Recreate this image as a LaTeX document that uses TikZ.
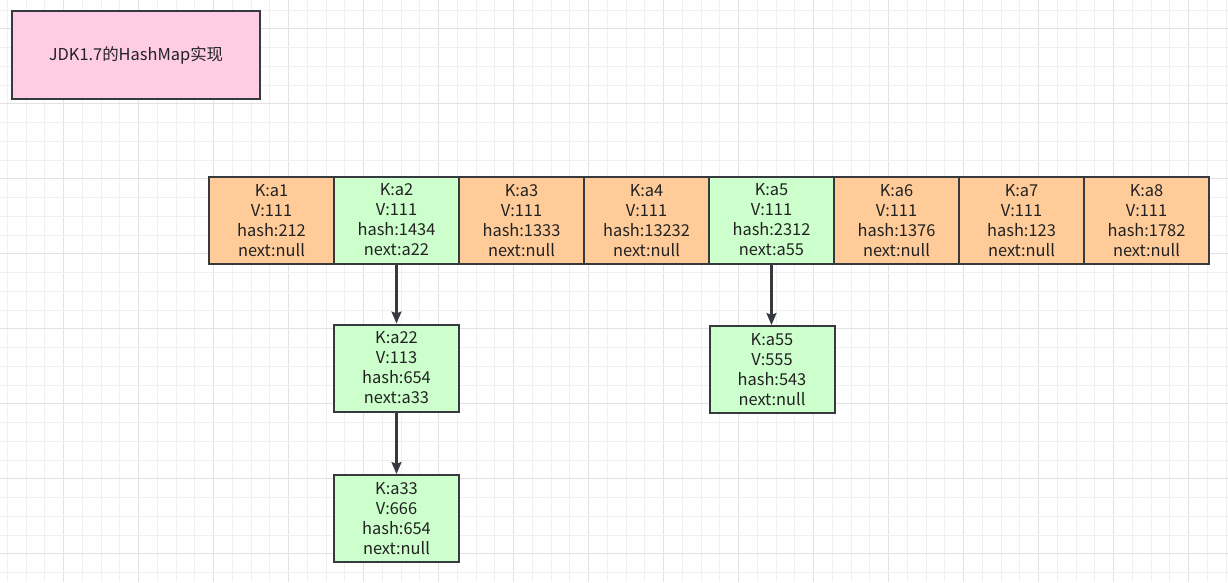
\documentclass[tikz,border=0pt]{standalone}
\usepackage{fontspec}
\setmainfont{Noto Sans CJK SC}
\usetikzlibrary{arrows.meta}
\definecolor{bd}{HTML}{36393D}
\definecolor{orcell}{HTML}{FFCC99}
\definecolor{grcell}{HTML}{CCFFCC}
\definecolor{pkcell}{HTML}{FFCCE6}
\definecolor{txt}{HTML}{222222}
\definecolor{gminor}{HTML}{F0F0F0}
\definecolor{gmajor}{HTML}{E2E2E2}
\tikzset{
  cellbox/.style={draw=bd, line width=1.5pt, minimum width=93.75pt, minimum height=65.25pt,
    inner sep=0pt, align=center, text=txt, font=\fontsize{12.3}{15}\selectfont},
  orbox/.style={cellbox, fill=orcell},
  grbox/.style={cellbox, fill=grcell},
  titlebox/.style={draw=bd, line width=1.5pt, fill=pkcell, minimum width=186pt, minimum height=66pt,
    inner sep=0pt, text=txt, font=\fontsize{12.3}{15}\selectfont},
  arr/.style={draw=bd, line width=1.6pt, -{Stealth[length=9pt,width=7.5pt,inset=1.5pt]}}
}
\begin{document}
\begin{tikzpicture}[x=0.75pt,y=-0.75pt]
\fill[white] (0,0) rectangle (1228,582);
\useasboundingbox (0,0) rectangle (1228,582);
% grid
\foreach \k in {0,...,65} {
  \pgfmathsetmacro{\gx}{7.3+18.75*\k}
  \pgfmathtruncatemacro{\m}{mod(\k,4)}
  \ifnum\m=3 \draw[gmajor,line width=0.75pt] (\gx,0) -- (\gx,582);
  \else \draw[gminor,line width=0.75pt] (\gx,0) -- (\gx,582); \fi
}
\foreach \k in {0,...,31} {
  \pgfmathsetmacro{\gy}{10.2+18.75*\k}
  \pgfmathtruncatemacro{\m}{mod(\k,4)}
  \ifnum\m=1 \draw[gmajor,line width=0.75pt] (0,\gy) -- (1228,\gy);
  \else \draw[gminor,line width=0.75pt] (0,\gy) -- (1228,\gy); \fi
}
% title
\node[titlebox] (title) at (136,55) {JDK1.7的HashMap实现};
% array
\node[orbox] (a1) at (271.5,220.5) {K:a1\\V:111\\hash:212\\next:null};
\node[orbox] (a3) at (521.5,220.5) {K:a3\\V:111\\hash:1333\\next:null};
\node[orbox] (a4) at (646.5,220.5) {K:a4\\V:111\\hash:13232\\next:null};
\node[orbox] (a6) at (896.5,220.5) {K:a6\\V:111\\hash:1376\\next:null};
\node[orbox] (a7) at (1021.5,220.5) {K:a7\\V:111\\hash:123\\next:null};
\node[orbox] (a8) at (1146.5,220.5) {K:a8\\V:111\\hash:1782\\next:null};
\node[grbox] (a2) at (396.5,220) {K:a2\\V:111\\hash:1434\\next:a22};
\node[grbox] (a5) at (771.5,220) {K:a5\\V:111\\hash:2312\\next:a55};
% chains
\node[grbox] (a22) at (396.5,368) {K:a22\\V:113\\hash:654\\next:a33};
\node[grbox] (a33) at (396.5,518.5) {K:a33\\V:666\\hash:654\\next:null};
\node[grbox] (a55) at (772,369.5) {K:a55\\V:555\\hash:543\\next:null};
% arrows
\draw[arr] (a2.south) -- (a22.north);
\draw[arr] (a22.south) -- (a33.north);
\draw[arr] (a5.south) -- (a55.north -| a5.south);
\end{tikzpicture}
\end{document}
